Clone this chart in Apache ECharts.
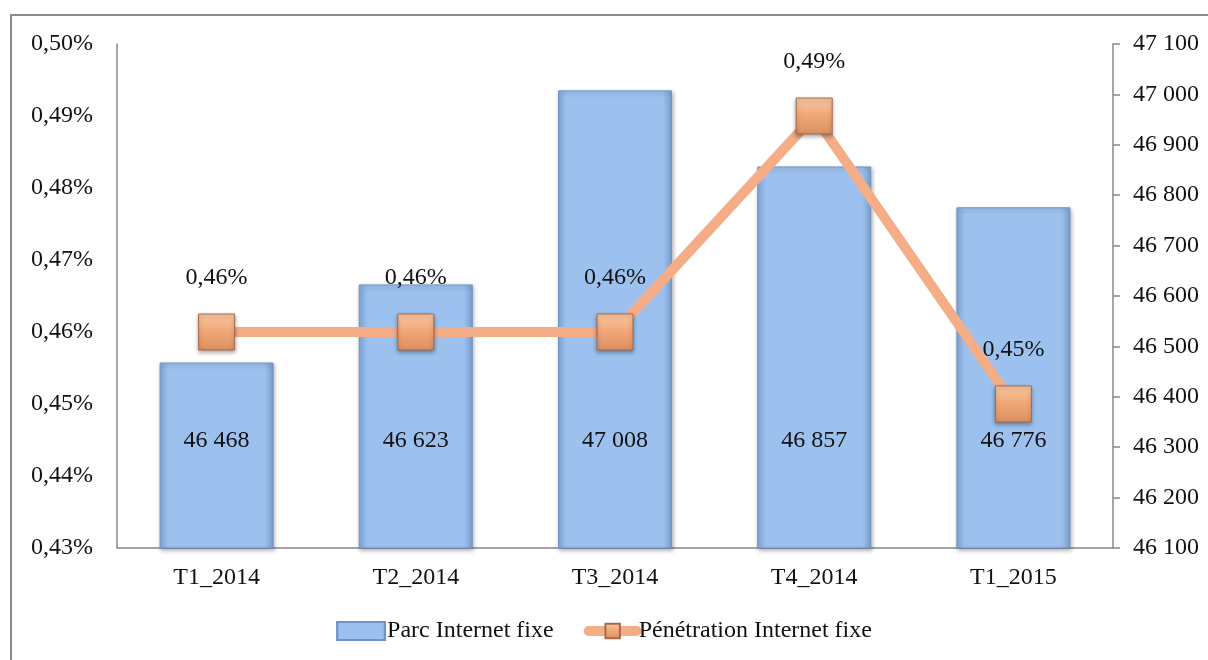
<!DOCTYPE html>
<html>
<head>
<meta charset="utf-8">
<script src="https://cdn.jsdelivr.net/npm/echarts@6/dist/echarts.min.js"></script>
<style>
  html, body { margin: 0; padding: 0; background: #fff; }
  #chart { width: 1208px; height: 660px; }
</style>
</head>
<body>
<div id="chart"></div>
<script>
const categories = ['T1_2014', 'T2_2014', 'T3_2014', 'T4_2014', 'T1_2015'];
const parcValues = [46468, 46623, 47008, 46857, 46776];
const penetrationValues = [0.46, 0.46, 0.46, 0.49, 0.45];   // en %

const FONT = '"Liberation Serif", "DejaVu Serif", serif';
const FS = 24;

const fmtThousands = v => String(Math.round(v)).replace(/\B(?=(\d{3})+(?!\d))/g, ' ');
const fmtPct = v => v.toFixed(2).replace('.', ',') + '%';

const chart = echarts.init(document.getElementById('chart'));

const barColor = new echarts.graphic.LinearGradient(0, 0, 1, 0, [
    { offset: 0, color: '#86abd9' },
    { offset: 0.08, color: '#9cc1ef' },
    { offset: 0.92, color: '#9cc1ef' },
    { offset: 1, color: '#7c9fcc' }
]);
const markerColor = new echarts.graphic.LinearGradient(0, 0, 0, 1, [
    { offset: 0, color: '#f9c9a2' },
    { offset: 0.5, color: '#f0a676' },
    { offset: 1, color: '#dc8f60' }
]);

chart.setOption({
    animation: false,
    backgroundColor: '#fff',
    textStyle: { fontFamily: FONT },
    graphic: [{
        type: 'rect',
        shape: { x: 11, y: 15, width: 1220, height: 680 },
        style: { fill: 'none', stroke: '#8c8c8c', lineWidth: 2 },
        silent: true
    }],
    grid: { left: 117, right: 95, top: 44, bottom: 112 },
    legend: {
        bottom: 12,
        left: 'center',
        itemGap: 30,
        itemWidth: 48,
        itemHeight: 18,
        textStyle: { fontFamily: FONT, fontSize: FS, color: '#111', padding: [0, 0, 0, -3] },
        data: [
            { name: 'Parc Internet fixe', icon: 'rect' },
            {
                name: 'Pénétration Internet fixe',
                lineStyle: { color: '#f4ad86', width: 10, cap: 'round' }
            }
        ]
    },
    xAxis: {
        type: 'category',
        data: categories,
        axisLine: { lineStyle: { color: '#888', width: 1.5 } },
        axisTick: { show: false },
        axisLabel: { fontFamily: FONT, fontSize: FS, color: '#111', margin: 18 }
    },
    yAxis: [
        {
            type: 'value',
            position: 'left',
            min: 0.43,
            max: 0.50,
            interval: 0.01,
            splitLine: { show: false },
            axisLine: { show: true, lineStyle: { color: '#888', width: 1.5 } },
            axisTick: { show: false },
            axisLabel: { fontFamily: FONT, fontSize: FS, color: '#111', margin: 24, formatter: fmtPct }
        },
        {
            type: 'value',
            position: 'right',
            min: 46100,
            max: 47100,
            interval: 100,
            splitLine: { show: false },
            axisLine: { show: true, lineStyle: { color: '#888', width: 1.5 } },
            axisTick: { show: true, inside: false, length: 7, lineStyle: { color: '#888', width: 1.5 } },
            axisLabel: { fontFamily: FONT, fontSize: FS, color: '#111', margin: 20, formatter: fmtThousands }
        }
    ],
    series: [
        {
            name: 'Parc Internet fixe',
            type: 'bar',
            yAxisIndex: 1,
            barWidth: 114,
            data: parcValues,
            itemStyle: {
                color: barColor,
                borderColor: '#6f93c4',
                borderWidth: 1,
                shadowColor: 'rgba(0,0,0,0.3)',
                shadowBlur: 4,
                shadowOffsetX: 1,
                shadowOffsetY: 2
            },
            label: {
                show: true,
                position: 'insideBottom',
                distance: 96,
                fontFamily: FONT,
                fontSize: FS,
                color: '#111',
                formatter: p => fmtThousands(p.value)
            }
        },
        {
            name: 'Pénétration Internet fixe',
            type: 'line',
            yAxisIndex: 0,
            data: penetrationValues,
            symbol: 'rect',
            symbolSize: 36,
            z: 5,
            lineStyle: { color: '#f4ad86', width: 10 },
            itemStyle: {
                color: markerColor,
                borderColor: '#a8694a',
                borderWidth: 1,
                shadowColor: 'rgba(0,0,0,0.35)',
                shadowBlur: 4,
                shadowOffsetY: 2
            },
            label: {
                show: true,
                position: 'top',
                distance: 24,
                fontFamily: FONT,
                fontSize: FS,
                color: '#111',
                formatter: p => fmtPct(p.value)
            }
        }
    ]
});
</script>
</body>
</html>
